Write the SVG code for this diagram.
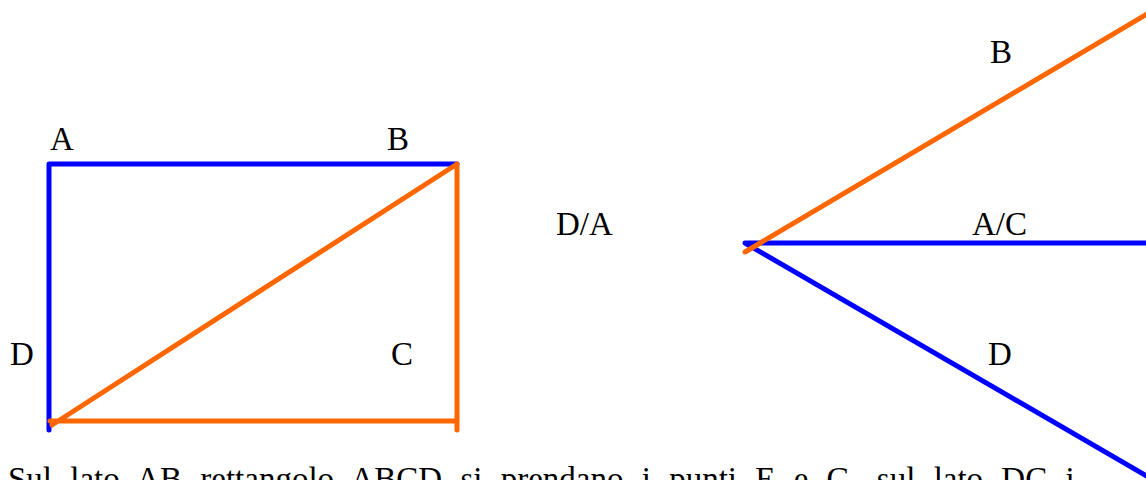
<svg xmlns="http://www.w3.org/2000/svg" width="1146" height="480" viewBox="0 0 1146 480">
<style>
text{font-family:"Liberation Serif","Times New Roman","DejaVu Serif",serif;font-size:33px;fill:#000}
.b{stroke:#0000ff;stroke-width:5;stroke-linecap:round;stroke-linejoin:round;fill:none}
.o{stroke:#ff6600;stroke-width:5;stroke-linecap:round;stroke-linejoin:round;fill:none}
</style>
<rect width="1146" height="480" fill="#fff"/>
<g id="connectors">
<path class="b" d="M49,430 L49,164 L457,164"/>
<path class="o" d="M457,164 L457,430 M50,421 L457,421 M52,425 L457,164"/>
<path class="b" d="M1150,243 L745,243 L1152,479"/>
<path class="o" d="M745,252 L1152,11"/>
</g>
<g id="labels">
<text font-family="Liberation Serif, serif" x="50" y="150">A</text>
<text font-family="Liberation Serif, serif" x="387" y="150">B</text>
<text font-family="Liberation Serif, serif" x="10" y="365">D</text>
<text font-family="Liberation Serif, serif" x="391" y="365">C</text>
<text font-family="Liberation Serif, serif" x="556" y="235">D/A</text>
<text font-family="Liberation Serif, serif" x="972" y="235">A/C</text>
<text font-family="Liberation Serif, serif" x="990" y="63">B</text>
<text font-family="Liberation Serif, serif" x="988" y="365">D</text>
</g>
<text font-family="Liberation Serif, serif" x="8" y="490" word-spacing="10" style="word-spacing:10px">Sul lato AB rettangolo ABCD si prendano i punti E e G, sul lato DC i</text>
</svg>
